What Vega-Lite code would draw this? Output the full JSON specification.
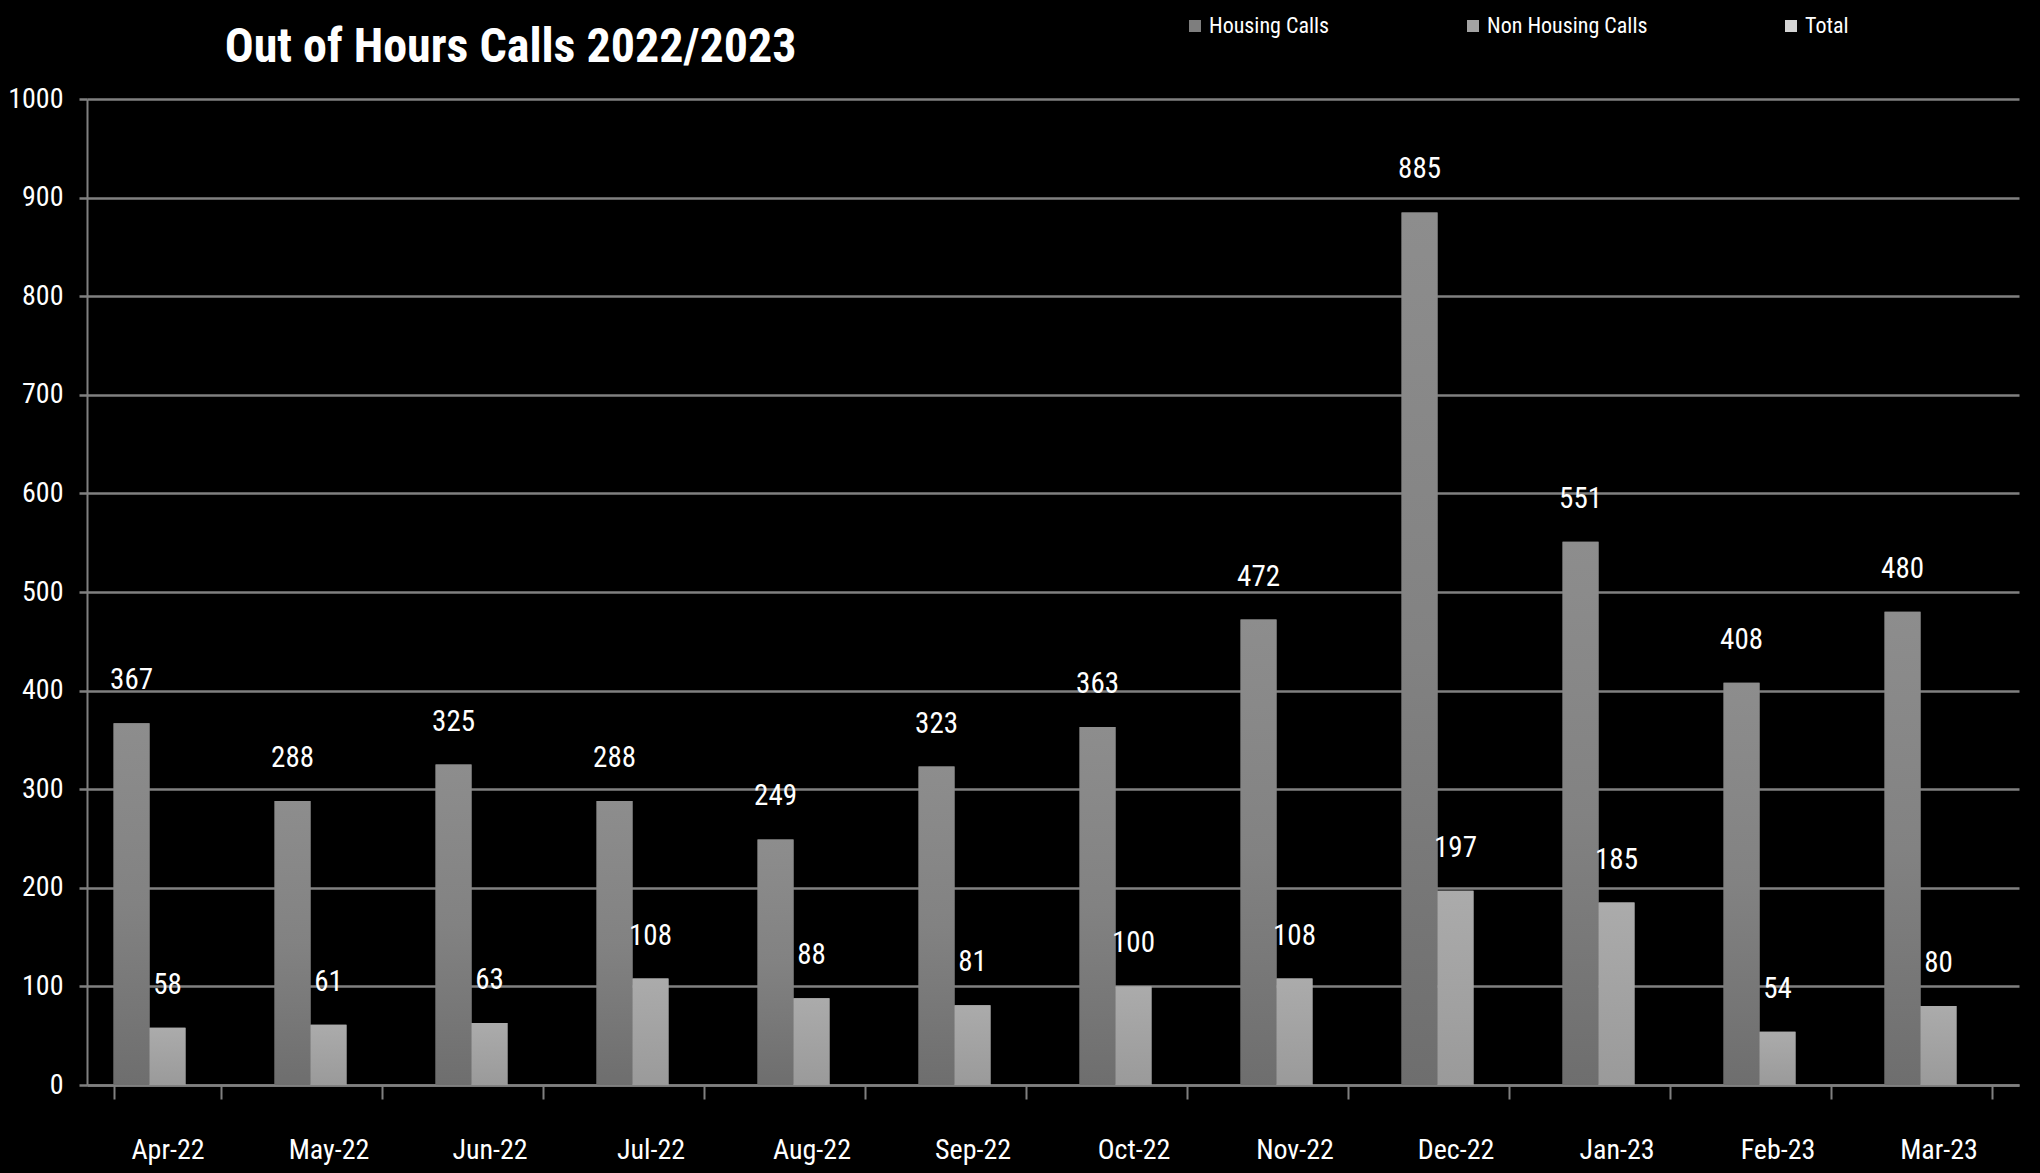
{
  "$schema": "https://vega.github.io/schema/vega-lite/v6.json",
  "autosize": {"type": "none"},
  "width": 1932,
  "height": 986,
  "padding": {"left": 87, "top": 99, "right": 21, "bottom": 88},
  "background": "#000000",
  "config": {
    "view": {"stroke": null},
    "font": "Roboto Condensed, Noto Sans Condensed, Liberation Sans Narrow, Roboto, sans-serif"
  },
  "title": {
    "text": "Out of Hours Calls 2022/2023",
    "anchor": "start",
    "dx": 217,
    "offset": -57,
    "fontSize": 48,
    "fontWeight": "bold",
    "color": "#ffffff",
    "font": "Roboto Condensed, Noto Sans Condensed, Liberation Sans Narrow, Roboto, sans-serif"
  },
  "data": {
    "values": [
      {"month": "Apr-22", "series": "Housing Calls", "value": 367},
      {"month": "May-22", "series": "Housing Calls", "value": 288},
      {"month": "Jun-22", "series": "Housing Calls", "value": 325},
      {"month": "Jul-22", "series": "Housing Calls", "value": 288},
      {"month": "Aug-22", "series": "Housing Calls", "value": 249},
      {"month": "Sep-22", "series": "Housing Calls", "value": 323},
      {"month": "Oct-22", "series": "Housing Calls", "value": 363},
      {"month": "Nov-22", "series": "Housing Calls", "value": 472},
      {"month": "Dec-22", "series": "Housing Calls", "value": 885},
      {"month": "Jan-23", "series": "Housing Calls", "value": 551},
      {"month": "Feb-23", "series": "Housing Calls", "value": 408},
      {"month": "Mar-23", "series": "Housing Calls", "value": 480},
      {"month": "Apr-22", "series": "Non Housing Calls", "value": 58},
      {"month": "May-22", "series": "Non Housing Calls", "value": 61},
      {"month": "Jun-22", "series": "Non Housing Calls", "value": 63},
      {"month": "Jul-22", "series": "Non Housing Calls", "value": 108},
      {"month": "Aug-22", "series": "Non Housing Calls", "value": 88},
      {"month": "Sep-22", "series": "Non Housing Calls", "value": 81},
      {"month": "Oct-22", "series": "Non Housing Calls", "value": 100},
      {"month": "Nov-22", "series": "Non Housing Calls", "value": 108},
      {"month": "Dec-22", "series": "Non Housing Calls", "value": 197},
      {"month": "Jan-23", "series": "Non Housing Calls", "value": 185},
      {"month": "Feb-23", "series": "Non Housing Calls", "value": 54},
      {"month": "Mar-23", "series": "Non Housing Calls", "value": 80}
    ]
  },
  "encoding": {
    "x": {
      "field": "month",
      "type": "nominal",
      "sort": null,
      "scale": {"paddingInner": 0.33, "paddingOuter": 0.165},
      "axis": {
        "title": null,
        "labelAngle": 0,
        "labelColor": "#ffffff",
        "labelFontSize": 28,
        "labelPadding": 37,
        "tickBand": "extent",
        "tickSize": 14,
        "tickColor": "#808080",
        "tickWidth": 2,
        "domainColor": "#808080",
        "domainWidth": 2.5,
        "grid": false
      }
    },
    "xOffset": {
      "field": "series",
      "type": "nominal",
      "scale": {"domain": ["Housing Calls", "Non Housing Calls", "Total"], "paddingInner": 0, "paddingOuter": 0}
    },
    "y": {
      "field": "value",
      "type": "quantitative",
      "scale": {"domain": [0, 1000], "nice": false},
      "axis": {
        "title": null,
        "format": "d",
        "values": [0, 100, 200, 300, 400, 500, 600, 700, 800, 900, 1000],
        "labelColor": "#ffffff",
        "labelFontSize": 28,
        "labelPadding": 16,
        "tickSize": 8,
        "tickColor": "#808080",
        "tickWidth": 2.5,
        "domainColor": "#808080",
        "domainWidth": 2,
        "gridColor": "#808080",
        "gridWidth": 2.5
      }
    }
  },
  "layer": [
    {
      "mark": {"type": "bar"},
      "encoding": {
        "color": {
          "field": "series",
          "type": "nominal",
          "scale": {"domain": ["Housing Calls", "Non Housing Calls", "Total"], "range": ["#7e7e7e", "#a3a3a3", "#d4d4d4"]},
          "legend": {
            "title": null,
            "orient": "none",
            "direction": "horizontal",
            "legendX": 1097,
            "legendY": -84,
            "columnPadding": 132,
            "symbolType": "square",
            "symbolSize": 144,
            "symbolStrokeWidth": 0,
            "symbolOffset": 0,
            "labelOffset": 3,
            "labelColor": "#ffffff",
            "labelFontSize": 22,
            "labelLimit": 400
          }
        }
      }
    },
    {
      "transform": [{"filter": "datum.series === 'Housing Calls'"}],
      "mark": {
        "type": "bar",
        "color": {
          "gradient": "linear", "x1": 0, "y1": 0, "x2": 0, "y2": 1,
          "stops": [{"offset": 0, "color": "#8d8d8d"}, {"offset": 0.5, "color": "#828282"}, {"offset": 1, "color": "#6e6e6e"}]
        }
      }
    },
    {
      "transform": [{"filter": "datum.series === 'Non Housing Calls'"}],
      "mark": {
        "type": "bar",
        "color": {
          "gradient": "linear", "x1": 0, "y1": 0, "x2": 0, "y2": 1,
          "stops": [{"offset": 0, "color": "#ababab"}, {"offset": 1, "color": "#9a9a9a"}]
        }
      }
    },
    {
      "mark": {"type": "text", "baseline": "alphabetic", "dy": -34, "color": "#ffffff", "fontSize": 29},
      "encoding": {
        "text": {"field": "value", "type": "quantitative"}
      }
    }
  ]
}
